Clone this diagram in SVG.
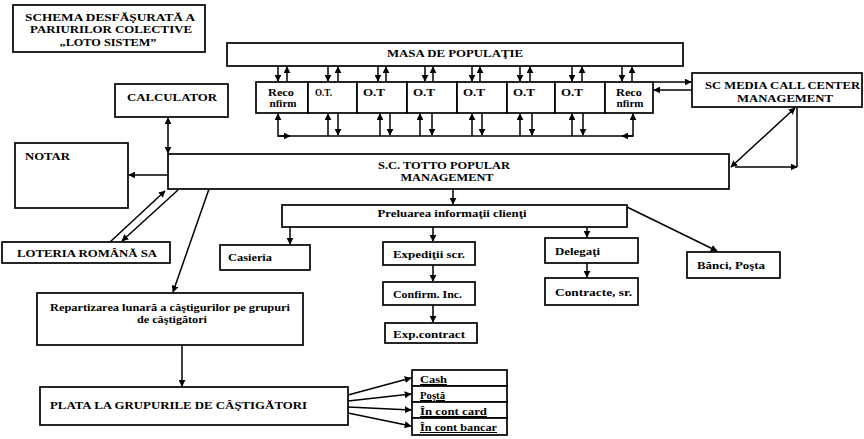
<svg xmlns="http://www.w3.org/2000/svg" width="864" height="439" viewBox="0 0 864 439">
<defs>
<marker id="ah" viewBox="0 0 10 10" refX="9" refY="5" markerWidth="7" markerHeight="7" markerUnits="userSpaceOnUse" orient="auto-start-reverse">
<path d="M0,0 L10,5 L0,10 z" fill="#000"/>
</marker>
<style>
.b{fill:#fff;stroke:#000;stroke-width:1.7}
.l{fill:none;stroke:#000;stroke-width:1.5}
.a{marker-end:url(#ah)}
.d{marker-start:url(#ah);marker-end:url(#ah)}
text{font-family:"Liberation Serif","DejaVu Serif",serif;font-weight:bold;font-size:10px;fill:#000}
.m{text-anchor:middle}
.u{text-decoration:underline}
</style>
</defs>
<rect width="864" height="439" fill="#fff"/>

<g id="title">
<rect class="b" x="13" y="5" width="192" height="47"/>
<text class="m" x="110" y="21" textLength="170" lengthAdjust="spacingAndGlyphs">SCHEMA DESFĂŞURATĂ A</text>
<text class="m" x="111" y="33" textLength="162" lengthAdjust="spacingAndGlyphs">PARIURILOR COLECTIVE</text>
<text class="m" x="108" y="46" textLength="97" lengthAdjust="spacingAndGlyphs">„LOTO SISTEM”</text>
</g>

<g id="masa">
<rect class="b" x="227" y="43" width="456" height="23"/>
<text class="m" x="455" y="57" textLength="136" lengthAdjust="spacingAndGlyphs">MASA DE POPULAŢIE</text>
</g>

<g id="reco1">
<rect class="b" x="256" y="82" width="52" height="31"/>
<text class="m" x="281" y="96" textLength="26" lengthAdjust="spacingAndGlyphs">Reco</text>
<text class="m" x="283" y="107" textLength="27" lengthAdjust="spacingAndGlyphs">nfirm</text>
</g>
<g id="ot1"><rect class="b" x="308" y="82" width="49" height="31"/><text x="315" y="96" textLength="17" lengthAdjust="spacingAndGlyphs">O.T.</text></g>
<g id="ot2"><rect class="b" x="357" y="82" width="50" height="31"/><text x="363" y="96" textLength="22" lengthAdjust="spacingAndGlyphs">O.T</text></g>
<g id="ot3"><rect class="b" x="407" y="82" width="50" height="31"/><text x="413" y="96" textLength="22" lengthAdjust="spacingAndGlyphs">O.T</text></g>
<g id="ot4"><rect class="b" x="457" y="82" width="50" height="31"/><text x="463" y="96" textLength="22" lengthAdjust="spacingAndGlyphs">O.T</text></g>
<g id="ot5"><rect class="b" x="507" y="82" width="48" height="31"/><text x="513" y="96" textLength="22" lengthAdjust="spacingAndGlyphs">O.T</text></g>
<g id="ot6"><rect class="b" x="555" y="82" width="50" height="31"/><text x="561" y="96" textLength="22" lengthAdjust="spacingAndGlyphs">O.T</text></g>
<g id="reco2">
<rect class="b" x="605" y="82" width="48" height="31"/>
<text class="m" x="629" y="96" textLength="26" lengthAdjust="spacingAndGlyphs">Reco</text>
<text class="m" x="630" y="107" textLength="27" lengthAdjust="spacingAndGlyphs">nfirm</text>
</g>

<g id="scmedia">
<rect class="b" x="692" y="73" width="170" height="34"/>
<text x="705" y="89" textLength="155" lengthAdjust="spacingAndGlyphs">SC MEDIA CALL CENTER</text>
<text class="m" x="785" y="102" textLength="96" lengthAdjust="spacingAndGlyphs">MANAGEMENT</text>
</g>

<g id="calculator">
<rect class="b" x="115" y="84" width="113" height="33"/>
<text class="m" x="172" y="101" textLength="90" lengthAdjust="spacingAndGlyphs">CALCULATOR</text>
</g>

<g id="notar">
<rect class="b" x="15" y="143" width="113" height="65"/>
<text x="25" y="160" textLength="45" lengthAdjust="spacingAndGlyphs">NOTAR</text>
</g>

<g id="totto">
<rect class="b" x="168" y="154" width="561" height="35"/>
<text class="m" x="444" y="169" textLength="132" lengthAdjust="spacingAndGlyphs">S.C. TOTTO POPULAR</text>
<text class="m" x="447" y="181" textLength="93" lengthAdjust="spacingAndGlyphs">MANAGEMENT</text>
</g>

<g id="loteria">
<rect class="b" x="2" y="242" width="168" height="21"/>
<text x="17" y="257" textLength="140" lengthAdjust="spacingAndGlyphs">LOTERIA ROMÂNĂ SA</text>
</g>

<g id="preluarea">
<rect class="b" x="282" y="205" width="345" height="22"/>
<text class="m" x="452" y="217" textLength="149" lengthAdjust="spacingAndGlyphs">Preluarea informaţii clienţi</text>
</g>

<g id="casieria"><rect class="b" x="220" y="245" width="90" height="25"/><text x="228" y="261" textLength="44" lengthAdjust="spacingAndGlyphs">Casieria</text></g>
<g id="expeditii"><rect class="b" x="383" y="242" width="92" height="23"/><text x="393" y="258" textLength="72" lengthAdjust="spacingAndGlyphs">Expediţii scr.</text></g>
<g id="confirm"><rect class="b" x="383" y="282" width="92" height="23"/><text x="393" y="298" textLength="69" lengthAdjust="spacingAndGlyphs">Confirm. Inc.</text></g>
<g id="expcontract"><rect class="b" x="385" y="323" width="92" height="20"/><text x="393" y="338" textLength="72" lengthAdjust="spacingAndGlyphs">Exp.contract</text></g>
<g id="delegati"><rect class="b" x="545" y="238" width="93" height="25"/><text x="555" y="255" textLength="45" lengthAdjust="spacingAndGlyphs">Delegaţi</text></g>
<g id="contracte"><rect class="b" x="545" y="278" width="93" height="27"/><text x="555" y="296" textLength="77" lengthAdjust="spacingAndGlyphs">Contracte, sr.</text></g>
<g id="banci"><rect class="b" x="687" y="252" width="93" height="26"/><text x="697" y="269" textLength="68" lengthAdjust="spacingAndGlyphs">Bănci, Poşta</text></g>

<g id="repartizarea">
<rect class="b" x="37" y="293" width="266" height="52"/>
<text class="m" x="170" y="311" textLength="240" lengthAdjust="spacingAndGlyphs">Repartizarea lunară a câştigurilor pe grupuri</text>
<text class="m" x="172" y="323" textLength="70" lengthAdjust="spacingAndGlyphs">de câştigători</text>
</g>

<g id="plata">
<rect class="b" x="40" y="387" width="308" height="38"/>
<text x="50" y="409" textLength="257" lengthAdjust="spacingAndGlyphs">PLATA LA GRUPURILE DE CÂŞTIGĂTORI</text>
</g>

<g id="cash"><rect class="b" x="412" y="370" width="95" height="16"/><text class="u" x="420" y="383" textLength="27" lengthAdjust="spacingAndGlyphs">Cash</text></g>
<g id="posta"><rect class="b" x="412" y="386" width="95" height="16"/><text class="u" x="420" y="399" textLength="25" lengthAdjust="spacingAndGlyphs">Poştă</text></g>
<g id="card"><rect class="b" x="412" y="402" width="95" height="16"/><text class="u" x="420" y="415" textLength="67" lengthAdjust="spacingAndGlyphs">În cont card</text></g>
<g id="bancar"><rect class="b" x="412" y="418" width="95" height="17"/><text class="u" x="420" y="431" textLength="77" lengthAdjust="spacingAndGlyphs">În cont bancar</text></g>

<g id="connectors">
<!-- masa to row -->
<path class="l a" d="M278,66 V81"/><path class="l a" d="M287,82 V67"/>
<path class="l a" d="M328,66 V81"/><path class="l a" d="M338,82 V67"/>
<path class="l a" d="M378,66 V81"/><path class="l a" d="M386,82 V67"/>
<path class="l a" d="M425,66 V81"/><path class="l a" d="M433,82 V67"/>
<path class="l a" d="M472,66 V81"/><path class="l a" d="M480,82 V67"/>
<path class="l a" d="M520,66 V81"/><path class="l a" d="M530,82 V67"/>
<path class="l a" d="M572,66 V81"/><path class="l a" d="M582,82 V67"/>
<path class="l a" d="M622,66 V81"/><path class="l a" d="M632,82 V67"/>
<!-- row to bus -->
<path class="l" d="M278,136 H633"/>
<path class="l d" d="M290,136 H278 V114"/>
<path class="l d" d="M622,136 H633 V114"/>
<path class="l a" d="M328,136 V114"/><path class="l a" d="M338,113 V135"/>
<path class="l a" d="M380,136 V114"/><path class="l a" d="M390,113 V135"/>
<path class="l a" d="M420,136 V114"/><path class="l a" d="M432,113 V135"/>
<path class="l a" d="M472,136 V114"/><path class="l a" d="M482,113 V135"/>
<path class="l a" d="M520,136 V114"/><path class="l a" d="M532,113 V135"/>
<path class="l a" d="M572,136 V114"/><path class="l a" d="M583,113 V135"/>
<!-- reco to sc media -->
<path class="l a" d="M653,82 H691"/>
<path class="l a" d="M692,90 H654"/>
<!-- triangle -->
<path class="l d" d="M731,167 L795,108"/>
<path class="l" d="M797,108 V167"/>
<path class="l a" d="M735,167 H797"/>
<!-- left side -->
<path class="l d" d="M168,118 V153"/>
<path class="l a" d="M168,175 H129"/>
<path class="l a" d="M110,242 L165,191"/>
<path class="l a" d="M178,190 L122,241"/>
<path class="l a" d="M209,189 L173,292"/>
<path class="l a" d="M182,345 V386"/>
<!-- totto to preluarea -->
<path class="l a" d="M453,189 V204"/>
<path class="l a" d="M290,227 V244"/>
<path class="l a" d="M433,227 V241"/>
<path class="l a" d="M433,265 V281"/>
<path class="l a" d="M433,305 V322"/>
<path class="l a" d="M587,227 V237"/>
<path class="l a" d="M587,263 V277"/>
<path class="l a" d="M627,207 L717,251"/>
<!-- plata to payouts -->
<path class="l a" d="M348,395 L411,378"/>
<path class="l a" d="M348,401 L411,394"/>
<path class="l a" d="M348,407 L411,410"/>
<path class="l a" d="M348,413 L411,426"/>
</g>
</svg>
